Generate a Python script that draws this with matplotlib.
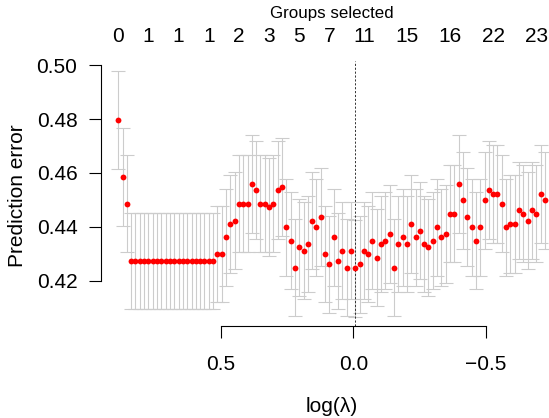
import numpy as np
import matplotlib
matplotlib.use("Agg")
import matplotlib.pyplot as plt

plt.rcParams['font.family'] = ['Liberation Sans', 'DejaVu Sans']

# ---- data ----
n_lambda = 100
log_lambda_max = 0.8868
log_lambda_min = -0.7226
log_lambda = np.linspace(log_lambda_max, log_lambda_min, n_lambda)

cve = [
    0.4798, 0.4585, 0.4486, 0.4273, 0.4273, 0.4273, 0.4273, 0.4273, 0.4273, 0.4273,
    0.4273, 0.4273, 0.4273, 0.4273, 0.4273, 0.4273, 0.4273, 0.4273, 0.4273, 0.4273,
    0.4273, 0.4273, 0.4273, 0.4299, 0.4299, 0.4361, 0.4410, 0.4423, 0.4486, 0.4486,
    0.4486, 0.4560, 0.4536, 0.4486, 0.4486, 0.4473, 0.4486, 0.4536, 0.4548, 0.4398,
    0.4348, 0.4248, 0.4323, 0.4311, 0.4336, 0.4423, 0.4398, 0.4436, 0.4299, 0.4260,
    0.4361, 0.4273, 0.4311, 0.4248, 0.4311, 0.4246, 0.4260, 0.4311, 0.4299, 0.4348,
    0.4285, 0.4336, 0.4348, 0.4373, 0.4248, 0.4336, 0.4361, 0.4336, 0.4410, 0.4361,
    0.4385, 0.4336, 0.4323, 0.4348, 0.4398, 0.4361, 0.4373, 0.4449, 0.4449, 0.4560,
    0.4498, 0.4436, 0.4398, 0.4348, 0.4398, 0.4498, 0.4536, 0.4523, 0.4523, 0.4486,
    0.4398, 0.4410, 0.4410, 0.4461, 0.4449, 0.4423, 0.4461, 0.4449, 0.4523, 0.4498,
]

cvse = [
    0.0182, 0.0181, 0.0181, 0.0180, 0.0180, 0.0180, 0.0180, 0.0180, 0.0180, 0.0180,
    0.0180, 0.0180, 0.0180, 0.0180, 0.0180, 0.0180, 0.0180, 0.0180, 0.0180, 0.0180,
    0.0180, 0.0180, 0.0180, 0.0180, 0.0180, 0.0181, 0.0181, 0.0181, 0.0181, 0.0181,
    0.0181, 0.0182, 0.0182, 0.0181, 0.0181, 0.0181, 0.0181, 0.0182, 0.0182, 0.0181,
    0.0180, 0.0180, 0.0180, 0.0180, 0.0180, 0.0181, 0.0181, 0.0181, 0.0180, 0.0180,
    0.0180, 0.0180, 0.0180, 0.0180, 0.0180, 0.0180, 0.0180, 0.0180, 0.0180, 0.0180,
    0.0180, 0.0180, 0.0180, 0.0181, 0.0180, 0.0180, 0.0180, 0.0180, 0.0181, 0.0181,
    0.0181, 0.0180, 0.0180, 0.0180, 0.0181, 0.0181, 0.0181, 0.0181, 0.0181, 0.0182,
    0.0181, 0.0181, 0.0181, 0.0180, 0.0181, 0.0181, 0.0182, 0.0182, 0.0182, 0.0181,
    0.0181, 0.0181, 0.0181, 0.0181, 0.0181, 0.0181, 0.0181, 0.0181, 0.0182, 0.0181,
]

groups_idx = [0, 7, 14, 21, 28, 35, 42, 49, 57, 67, 77, 87, 97]
groups_labels = ["0", "1", "1", "1", "2", "3", "5", "7", "11", "15", "16", "22", "23"]

x_ticks = [0.5, 0.0, -0.5]
x_tick_labels = ["0.5", "0.0", "\u22120.5"]
y_ticks = [0.42, 0.44, 0.46, 0.48, 0.50]
y_tick_labels = ["0.42", "0.44", "0.46", "0.48", "0.50"]

# ---- figure ----
W, H = 549, 418
fig = plt.figure(figsize=(W / 100, H / 100), dpi=100)

x_left_px, x_right_px = 101.2, 561.9
y_top_px, y_bot_px = 61.0, 326.4
ax = fig.add_axes([x_left_px / W, (H - y_bot_px) / H,
                   (x_right_px - x_left_px) / W, (y_bot_px - y_top_px) / H])

cve_a = np.array(cve)
se_a = np.array(cvse)
lo = cve_a - se_a
hi = cve_a + se_a

# R-style 4% extension, reversed x
xr = log_lambda.max() - log_lambda.min()
ax.set_xlim(log_lambda.max() + 0.04 * xr, log_lambda.min() - 0.04 * xr)
yr = hi.max() - lo.min()
ax.set_ylim(lo.min() - 0.04 * yr, hi.max() + 0.04 * yr)

ax.errorbar(log_lambda, cve_a, yerr=se_a, fmt='none', ecolor='#CCCCCC',
            elinewidth=0.8, capsize=5.0, capthick=0.8, zorder=1)
ax.plot(log_lambda, cve_a, 'o', color='#FF0000', markersize=4.2,
        markeredgewidth=0, zorder=3)

imin = int(np.argmin(cve_a))
ax.axvline(log_lambda[imin], color='#333333', lw=0.7, ls=(0, (2.2, 1.8)), zorder=2)

for s in ['top', 'right']:
    ax.spines[s].set_visible(False)
ax.spines['left'].set_bounds(y_ticks[0], y_ticks[-1])
ax.spines['bottom'].set_bounds(x_ticks[-1], x_ticks[0])
for s in ['left', 'bottom']:
    ax.spines[s].set_linewidth(0.8)
    ax.spines[s].set_color('black')

ax.set_xticks(x_ticks)
ax.set_xticklabels(x_tick_labels)
ax.set_yticks(y_ticks)
ax.set_yticklabels(y_tick_labels)
ax.tick_params(axis='both', length=8.6, width=0.8, labelsize=15, color='black')
ax.tick_params(axis='x', pad=12)
ax.tick_params(axis='y', pad=8.5)

# top axis: groups selected
for i, lab in zip(groups_idx, groups_labels):
    ax.text(log_lambda[i], (H - 41.7) / H, lab, transform=matplotlib.transforms.blended_transform_factory(ax.transData, fig.transFigure),
            ha='center', va='baseline', fontsize=15)
fig.text(331.5 / W, (H - 18.3) / H, "Groups selected", ha='center', va='baseline', fontsize=12.2)

fig.text(331.5 / W, (H - 411.5) / H, "log(\u03bb)", ha='center', va='baseline', fontsize=15)
fig.text(18.0 / W, (H - 196.0) / H, "Prediction error", ha='center', va='center',
         rotation=90, fontsize=15)

fig.savefig("out.png", dpi=100)
